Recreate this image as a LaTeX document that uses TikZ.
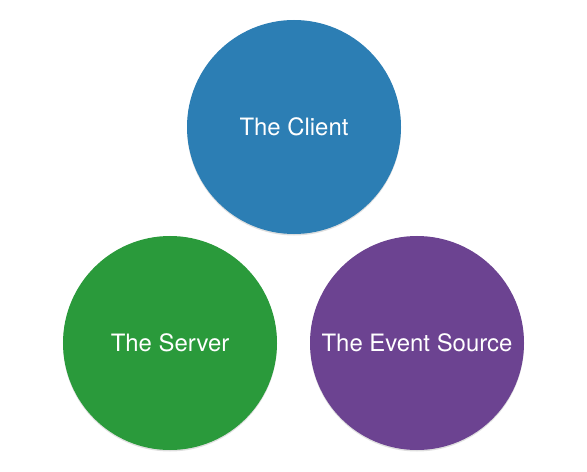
\documentclass[tikz,border=0pt]{standalone}
\usepackage{fontspec}
\setmainfont{TeX Gyre Heros}
\usepackage{tikz}
\usetikzlibrary{shadows}
\definecolor{clientblue}{HTML}{2C7EB4}
\definecolor{servergreen}{HTML}{2A9A3B}
\definecolor{sourcepurple}{HTML}{6C4391}
\begin{document}
\begin{tikzpicture}[x=1bp, y=-1bp,
    party/.style={circle, minimum size=214bp, inner sep=0pt, text=white,
      font=\fontsize{24}{28}\selectfont,
      drop shadow={opacity=0.25, shadow xshift=0bp, shadow yshift=-1.5bp}}]
  \useasboundingbox (0,0) rectangle (587,472);
  \node[party, fill=clientblue] (client) at (294,127) {The Client};
  \node[party, fill=servergreen] (server) at (170,343) {The Server};
  \node[party, fill=sourcepurple] (source) at (417,343) {The Event Source};
\end{tikzpicture}
\end{document}
